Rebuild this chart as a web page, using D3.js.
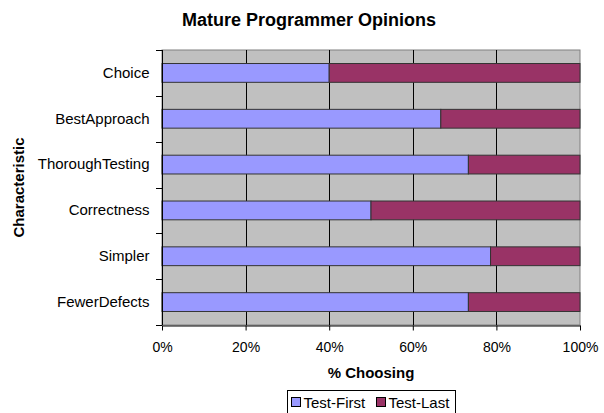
<!DOCTYPE html>
<html>
<head>
<meta charset="utf-8">
<script src="https://cdn.jsdelivr.net/npm/d3@7"></script>
<style>
  body { margin: 0; background: white; }
  text { font-family: "Liberation Sans", Arial, sans-serif; fill: #000; }
</style>
</head>
<body>
<div id="chart"></div>
<script>
// data
const categories = ["Choice", "BestApproach", "ThoroughTesting", "Correctness", "Simpler", "FewerDefects"];
const testFirst = [40.0, 66.7, 73.3, 50.0, 78.6, 73.3];
const testLast = [60.0, 33.3, 26.7, 50.0, 21.4, 26.7];
const seriesNames = ["Test-First", "Test-Last"];
const xTicks = [0, 20, 40, 60, 80, 100];

const colors = ["#9999FF", "#993366"];
const width = 604, height = 413;
const plot = {left: 162, right: 580, top: 50, bottom: 325};

const svg = d3.select("#chart").append("svg")
    .attr("width", width)
    .attr("height", height);

const x = d3.scaleLinear().domain([0, 100]).range([plot.left, plot.right]);
const y = d3.scaleBand().domain(categories)
    .range([plot.top, plot.bottom])
    .paddingInner(0.59)
    .paddingOuter(0.295);

// plot background
svg.append("rect")
    .attr("x", plot.left).attr("y", plot.top)
    .attr("width", plot.right - plot.left).attr("height", plot.bottom - plot.top)
    .style("fill", "#C0C0C0")
    .style("stroke", "#808080")
    .style("stroke-width", 1);

// vertical gridlines
svg.append("g").selectAll("line")
    .data(xTicks.filter(d => d > 0 && d < 100))
    .join("line")
    .attr("x1", d => Math.round(x(d)) + 0.5).attr("x2", d => Math.round(x(d)) + 0.5)
    .attr("y1", plot.top).attr("y2", plot.bottom)
    .style("stroke", "#000")
    .style("stroke-width", 1);

// stacked bars
const rows = categories.map((c, i) => ({cat: c, first: testFirst[i], last: testLast[i]}));
const stack = d3.stack().keys(["first", "last"])(rows);

svg.append("g").selectAll("g")
    .data(stack)
    .join("g")
    .style("fill", (d, i) => colors[i])
    .selectAll("rect")
    .data(d => d)
    .join("rect")
    .attr("x", d => x(d[0]))
    .attr("y", d => y(d.data.cat))
    .attr("width", d => x(d[1]) - x(d[0]))
    .attr("height", y.bandwidth())
    .style("stroke", "#333")
    .style("stroke-width", 1);

// x axis
const xAxis = svg.append("g")
    .attr("transform", `translate(0,${plot.bottom + 0.5})`)
    .call(d3.axisBottom(x).tickValues(xTicks).tickFormat(d => d + "%").tickSize(5).tickSizeOuter(0).tickPadding(12));
xAxis.select(".domain").style("stroke", "#000");
xAxis.selectAll("text").style("font-size", "14px").style("font-family", "Liberation Sans, Arial, sans-serif");

// y axis: labels without ticks, ticks at band boundaries
const yAxis = svg.append("g")
    .attr("transform", `translate(${plot.left + 0.5},0)`)
    .call(d3.axisLeft(y).tickSize(0).tickPadding(13));
yAxis.select(".domain").style("stroke", "#000").attr("d", `M0,${plot.top}V${plot.bottom}`);
yAxis.selectAll("text").style("font-size", "15px").style("font-family", "Liberation Sans, Arial, sans-serif");

const bounds = d3.range(categories.length + 1).map(i => plot.top + i * y.step());
svg.append("g").selectAll("line")
    .data(bounds)
    .join("line")
    .attr("x1", plot.left - 6).attr("x2", plot.left)
    .attr("y1", d => Math.round(d) + 0.5).attr("y2", d => Math.round(d) + 0.5)
    .style("stroke", "#000");

// titles
svg.append("text")
    .attr("x", 309).attr("y", 26)
    .attr("text-anchor", "middle")
    .style("font-size", "18px").style("font-weight", "bold")
    .text("Mature Programmer Opinions");

svg.append("text")
    .attr("x", (plot.left + plot.right) / 2).attr("y", 378)
    .attr("text-anchor", "middle")
    .style("font-size", "15px").style("font-weight", "bold")
    .text("% Choosing");

svg.append("text")
    .attr("transform", `translate(24,${(plot.top + plot.bottom) / 2}) rotate(-90)`)
    .attr("text-anchor", "middle")
    .style("font-size", "15px").style("font-weight", "bold")
    .text("Characteristic");

// legend
const legend = svg.append("g");
legend.append("rect")
    .attr("x", 287.5).attr("y", 390.5)
    .attr("width", 168).attr("height", 24)
    .style("fill", "white").style("stroke", "#000");
const legendX = [291.5, 376.5];
seriesNames.forEach((name, i) => {
    legend.append("rect")
        .attr("x", legendX[i]).attr("y", 397.5)
        .attr("width", 9).attr("height", 9)
        .style("fill", colors[i]).style("stroke", "#000");
    legend.append("text")
        .attr("x", legendX[i] + 12).attr("y", 408)
        .style("font-size", "15px")
        .text(name);
});
</script>
</body>
</html>
